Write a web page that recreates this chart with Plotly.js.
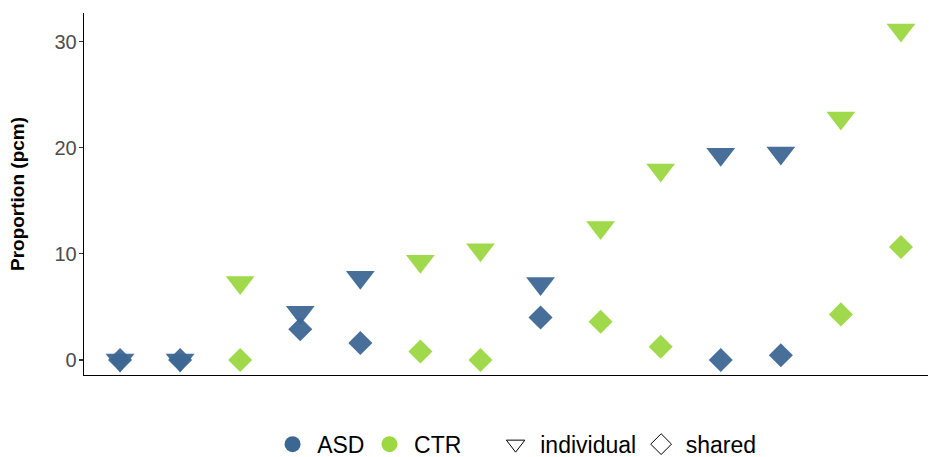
<!DOCTYPE html>
<html>
<head>
<meta charset="utf-8">
<script src="https://cdn.plot.ly/plotly-3.0.1.min.js"></script>
<style>html,body{margin:0;padding:0;background:#fff;}#chart{width:929px;height:457px;}</style>
</head>
<body>
<div id="chart"></div>
<script>
// Data
const samples = ['S1','S2','S3','S4','S5','S6','S7','S8','S9','S10','S11','S12','S13','S14'];
const groups = ['ASD','ASD','CTR','ASD','ASD','CTR','CTR','ASD','CTR','CTR','ASD','ASD','CTR','CTR'];
const individual = [0, 0, 7.3, 4.5, 7.8, 9.3, 10.4, 7.2, 12.5, 17.9, 19.4, 19.5, 22.8, 31.1];
const shared = [0, 0, 0, 2.9, 1.6, 0.8, 0, 4.0, 3.6, 1.25, 0, 0.45, 4.3, 10.65];
const groupNames = ['ASD', 'CTR'];
const typeNames = ['individual', 'shared'];

const colors = {ASD: '#3D6793', CTR: '#9BD842'};
const FONT = 'Liberation Sans, Arial, sans-serif';

function pick(arr, g) {
  const xs = [], ys = [];
  samples.forEach((s, i) => { if (groups[i] === g) { xs.push(s); ys.push(arr[i]); } });
  return {x: xs, y: ys};
}

const traces = [];
groupNames.forEach(g => {
  const t = pick(individual, g);
  traces.push({type: 'scatter', mode: 'markers', x: t.x, y: t.y, showlegend: false,
    marker: {symbol: 'triangle-down', size: 25, color: colors[g], opacity: 0.95, line: {width: 0}}});
});
groupNames.forEach(g => {
  const t = pick(shared, g);
  traces.push({type: 'scatter', mode: 'markers', x: t.x, y: t.y, showlegend: false,
    marker: {symbol: 'diamond', size: 18.5, color: colors[g], opacity: 0.95, line: {width: 0}}});
});
// legend entries
groupNames.forEach(g => {
  traces.push({type: 'scatter', mode: 'markers', x: [null], y: [null], name: '\u2009' + g, legend: 'legend',
    marker: {symbol: 'circle', size: 19, color: colors[g]}});
});
const legSym = {individual: 'triangle-down-open', shared: 'diamond-open'};
typeNames.forEach(n => {
  traces.push({type: 'scatter', mode: 'markers', x: [null], y: [null], name: '\u2009' + n, legend: 'legend2',
    marker: {symbol: legSym[n], size: 19, color: '#000', line: {width: 1, color: '#000'}}});
});

const legBase = {orientation: 'h', yref: 'container', yanchor: 'middle', y: 0.028,
  xref: 'container', xanchor: 'left',
  font: {family: FONT, size: 23, color: '#000'}, bgcolor: 'rgba(0,0,0,0)', borderwidth: 0,
  itemclick: false, tracegroupgap: 0};

const layout = {
  width: 929, height: 457,
  margin: {l: 84, r: 1, t: 13, b: 82, autoexpand: false},
  paper_bgcolor: '#fff', plot_bgcolor: '#fff',
  font: {family: FONT},
  xaxis: {type: 'category', categoryorder: 'array', categoryarray: samples,
    range: [-0.6, 13.45], showticklabels: false, ticks: '', showgrid: false, zeroline: false,
    showline: true, linecolor: '#000', linewidth: 1.3, fixedrange: true, automargin: false},
  yaxis: {range: [-1.41, 32.7], tickvals: [0, 10, 20, 30], ticks: 'outside', ticklen: 4,
    tickcolor: '#333', tickwidth: 1.1, showgrid: false, zeroline: false, automargin: false,
    showline: true, linecolor: '#000', linewidth: 1.3, ticklabelstandoff: -2,
    tickfont: {family: FONT, size: 20, color: '#4d4d4d'},
    title: {text: '<b>Proportion (pcm)</b>', font: {family: FONT, size: 19, color: '#000'}, standoff: 24}},
  legend: Object.assign({}, legBase, {x: 0.2934}),
  legend2: Object.assign({}, legBase, {x: 0.5335}),
  showlegend: true
};

Plotly.newPlot('chart', traces, layout, {displayModeBar: false, staticPlot: true});
</script>
</body>
</html>
